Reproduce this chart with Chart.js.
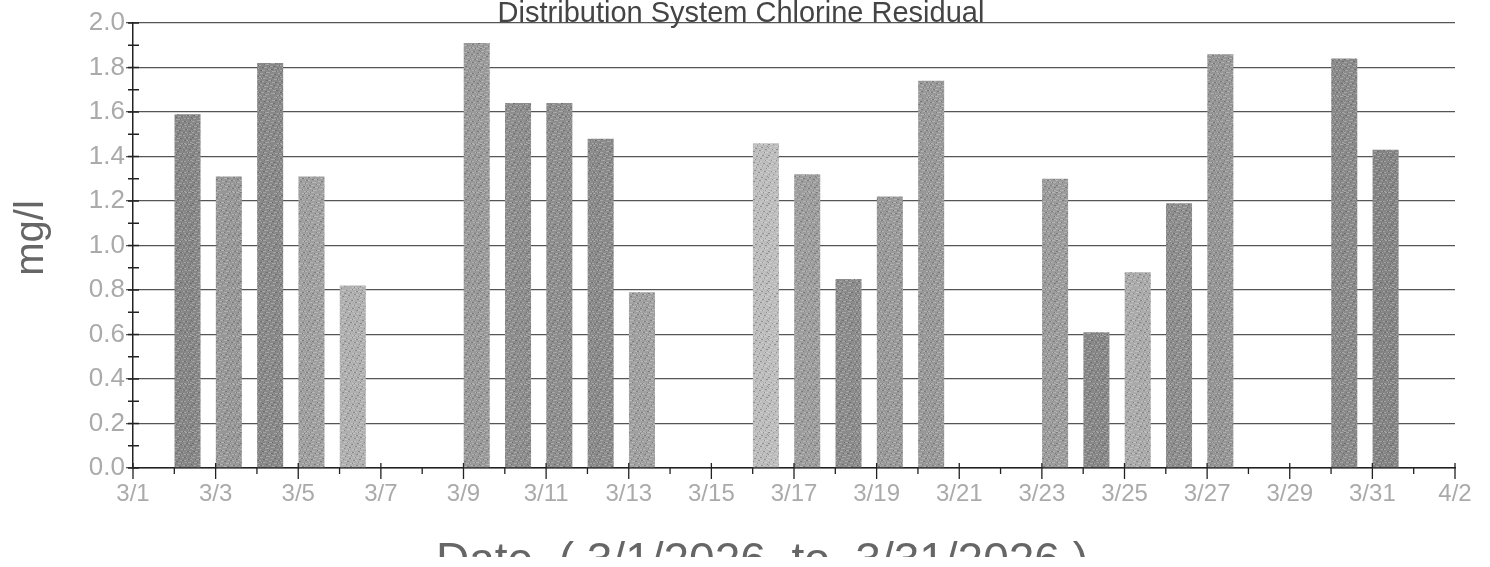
<!DOCTYPE html>
<html>
<head>
<meta charset="utf-8">
<script src="https://cdn.jsdelivr.net/npm/chart.js@4.4.1/dist/chart.umd.min.js"></script>
<style>
  html, body { margin: 0; padding: 0; background: #fff; }
</style>
</head>
<body>
<canvas id="chartCl" width="1490" height="567"></canvas>
<script>
// sample dates and chlorine residual (mg/l)
const sampleDays = ["3/2", "3/3", "3/4", "3/5", "3/6", "3/9", "3/10", "3/11", "3/12", "3/13",
  "3/16", "3/17", "3/18", "3/19", "3/20", "3/23", "3/24", "3/25", "3/26", "3/27", "3/30", "3/31"];
const residual = [1.59, 1.31, 1.82, 1.31, 0.82, 1.91, 1.64, 1.64, 1.48, 0.79,
  1.46, 1.32, 0.85, 1.22, 1.74, 1.30, 0.61, 0.88, 1.19, 1.86, 1.84, 1.43];
const xTickLabels = ["3/1", "3/3", "3/5", "3/7", "3/9", "3/11", "3/13", "3/15", "3/17",
  "3/19", "3/21", "3/23", "3/25", "3/27", "3/29", "3/31", "4/2"];
const yTickLabels = ["0.0", "0.2", "0.4", "0.6", "0.8", "1.0", "1.2", "1.4", "1.6", "1.8", "2.0"];

// shade of each bar in the scan
const barShades = ["#868686", "#979797", "#888888", "#9f9f9f", "#afafaf", "#999999", "#8d8d8d", "#8d8d8d",
  "#8a8a8a", "#a0a0a0", "#bcbcbc", "#9d9d9d", "#8b8b8b", "#999999", "#989898", "#9b9b9b",
  "#878787", "#aaaaaa", "#8d8d8d", "#959595", "#898989", "#848484"];

// bars in the original start at their date tick, not centred on it
const BAR_ALIGN = 0.32;

function dayOffset(label) {
  const [m, d] = label.split("/").map(Number);
  return m === 3 ? d - 1 : 30 + d;
}

// grainy fill like the photocopy
function grain(hex) {
  const c = document.createElement("canvas");
  c.width = 48; c.height = 48;
  const g = c.getContext("2d");
  g.fillStyle = hex;
  g.fillRect(0, 0, 48, 48);
  for (let i = 0; i < 48 * 48; i++) {
    const h = ((i * 2654435761) >>> 0) % 997;
    if (h < 260) {
      g.fillStyle = h % 3 === 0 ? "rgba(60,60,60,0.35)" : "rgba(255,255,255,0.25)";
      g.fillRect(i % 48, Math.floor(i / 48), 1, 1);
    }
  }
  return g.createPattern(c, "repeat");
}

const extras = {
  id: "extras",
  afterDatasetsDraw(chart) {
    const { ctx, scales: { x, y } } = chart;
    ctx.save();
    ctx.strokeStyle = "#222";
    ctx.lineWidth = 1.3;
    ctx.beginPath();
    for (let d = 0; d <= 32; d++) {
      const px = x.getPixelForValue(d);
      if (d % 2 === 0) {
        ctx.moveTo(px, y.bottom - 5);
        ctx.lineTo(px, y.bottom + 11);
      } else {
        ctx.moveTo(px, y.bottom);
        ctx.lineTo(px, y.bottom + 6);
      }
    }
    for (let k = 0; k <= 20; k++) {
      const py = y.getPixelForValue(k / 10);
      ctx.moveTo(x.left - 5, py);
      ctx.lineTo(x.left + 6, py);
    }
    ctx.stroke();

    ctx.fillStyle = "#444";
    ctx.font = "29px 'Liberation Sans', Arial, sans-serif";
    ctx.textAlign = "center";
    ctx.textBaseline = "alphabetic";
    ctx.fillText("Distribution System Chlorine Residual", 741, 22);

    ctx.fillStyle = "#666";
    ctx.font = "46px 'Liberation Sans', Arial, sans-serif";
    ctx.fillText("Date  ( 3/1/2026  to  3/31/2026 )", 762, 575);
    ctx.fillStyle = "#fff";
    ctx.fillRect(0, 557, chart.width, 10);

    ctx.save();
    ctx.translate(43, 238);
    ctx.rotate(-Math.PI / 2);
    ctx.fillStyle = "#666";
    ctx.font = "40px 'Liberation Sans', Arial, sans-serif";
    ctx.fillText("mg/l", 0, 0);
    ctx.restore();
    ctx.restore();
  }
};

new Chart(document.querySelector("#chartCl"), {
  type: "bar",
  data: {
    datasets: [
      {
        label: "Chlorine residual",
        data: sampleDays.map((d, i) => ({ x: dayOffset(d) + BAR_ALIGN, y: residual[i] })),
        backgroundColor: barShades.map(grain),
        borderWidth: 0,
        barPercentage: 0.63,
        categoryPercentage: 1,
      },
    ],
  },
  options: {
    responsive: false,
    animation: false,
    devicePixelRatio: 1,
    layout: { padding: { top: 23, right: 35, left: 0, bottom: 0 } },
    scales: {
      x: {
        type: "linear",
        offset: false,
        min: 0,
        max: 32,
        afterFit: (s) => { s.height = 99; },
        ticks: {
          stepSize: 1,
          autoSkip: false,
          maxRotation: 0,
          padding: 12,
          color: "#aaa",
          font: { size: 24, family: "'Liberation Sans', Arial, sans-serif" },
          callback: (v) => (v % 2 === 0 ? xTickLabels[v / 2] : ""),
        },
        grid: { drawOnChartArea: false, drawTicks: false, offset: false },
        border: { color: "#222", width: 1.5 },
      },
      y: {
        min: 0,
        max: 2,
        afterFit: (s) => { s.width = 133; },
        ticks: {
          stepSize: 0.2,
          padding: 1,
          color: "#aaa",
          font: { size: 26, family: "'Liberation Sans', Arial, sans-serif" },
          callback: (v) => yTickLabels[Math.round(v * 5)],
        },
        grid: { color: "#555", lineWidth: 1.3, tickLength: 7, tickColor: "#555" },
        border: { color: "#222", width: 1.5 },
      },
    },
    plugins: {
      legend: { display: false },
      tooltip: { enabled: false },
    },
  },
  plugins: [extras],
});
</script>
</body>
</html>
